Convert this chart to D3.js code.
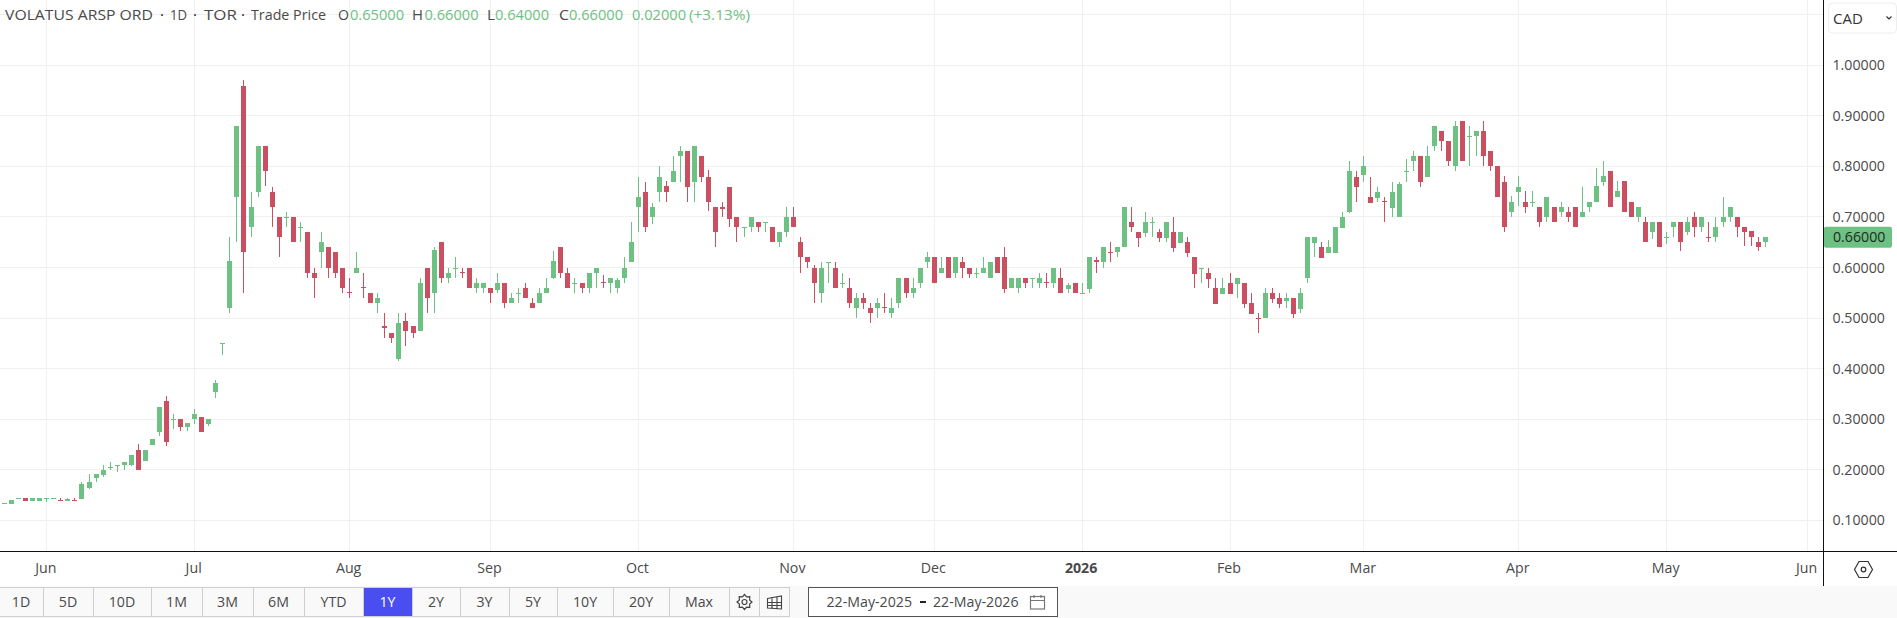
<!DOCTYPE html>
<html>
<head>
<meta charset="utf-8">
<script src="https://cdn.jsdelivr.net/npm/d3@7"></script>
<style>
  html, body { margin: 0; padding: 0; background: #fff; overflow: hidden; }
  svg { display: block; font-family: "Open Sans", sans-serif; }
  text { fill: #4a4a4a; }
</style>
</head>
<body>
<svg id="chart" width="1897" height="618"></svg>
<script>
const opens = [
  .135,.133,.144,.145,.139,.139,.144,.144,.141,.139,
  .141,.143,.163,.183,.189,.205,.21,.209,.209,.24,
  .218,.248,.274,.335,.3,.3,.284,.3,.305,.29,
  .353,.45,.52,.74,.96,.68,.75,.84,.75,.7,
  .7,.7,.68,.67,.59,.63,.64,.63,.6,.551,
  .59,.561,.55,.53,.485,.47,.42,.495,.485,.475,
  .6,.55,.65,.58,.6,.591,.6,.56,.56,.56,
  .555,.57,.53,.55,.56,.53,.53,.55,.58,.64,
  .59,.57,.57,.56,.59,.571,.57,.56,.58,.61,
  .72,.75,.7,.75,.762,.77,.82,.83,.77,.82,
  .78,.72,.72,.76,.7,.68,.68,.69,.69,.68,
  .65,.67,.7,.65,.62,.6,.55,.61,.6,.57,
  .56,.52,.54,.52,.52,.521,.51,.53,.58,.55,
  .57,.61,.62,.59,.62,.59,.61,.6,.59,.59,
  .58,.62,.62,.56,.56,.58,.58,.57,.571,.57,
  .58,.557,.57,.55,.557,.615,.61,.631,.63,.64,
  .69,.67,.668,.69,.67,.658,.67,.648,.65,.62,
  .6,.59,.56,.547,.57,.567,.57,.53,.501,.5,
  .55,.54,.533,.54,.517,.58,.648,.64,.628,.628,
  .678,.71,.78,.783,.74,.737,.731,.717,.7,.79,
  .81,.82,.78,.84,.87,.85,.8,.89,.86,.86,
  .87,.83,.8,.77,.71,.75,.73,.73,.72,.7,
  .72,.71,.71,.72,.7,.72,.73,.77,.79,.74,
  .772,.73,.7,.69,.67,.69,.66,.68,.69,.67,
  .7,.68,.661,.66,.69,.7,.7,.68,.672,.65,.65
];
const highs = [
  .135,.141,.145,.145,.145,.145,.145,.145,.145,.145,
  .145,.175,.191,.191,.21,.216,.21,.216,.23,.25,
  .24,.26,.325,.345,.31,.3,.292,.32,.305,.3,
  .377,.451,.66,.88,.97,.75,.84,.84,.76,.7,
  .71,.7,.69,.67,.6,.67,.64,.63,.6,.58,
  .63,.59,.55,.55,.51,.47,.51,.51,.485,.58,
  .6,.64,.65,.6,.62,.6,.6,.58,.57,.56,
  .59,.57,.55,.56,.57,.54,.56,.58,.632,.64,
  .6,.58,.57,.59,.6,.585,.58,.58,.62,.69,
  .78,.77,.727,.8,.772,.82,.84,.83,.84,.82,
  .792,.72,.73,.76,.7,.68,.7,.69,.69,.68,
  .67,.72,.72,.66,.62,.605,.61,.61,.61,.59,
  .58,.55,.55,.53,.54,.55,.54,.58,.58,.58,
  .6,.63,.62,.62,.62,.62,.62,.6,.6,.62,
  .61,.62,.64,.58,.58,.58,.58,.59,.59,.6,
  .6,.57,.57,.57,.62,.62,.64,.65,.64,.72,
  .72,.67,.71,.7,.676,.69,.7,.67,.66,.62,
  .6,.6,.58,.58,.59,.58,.57,.55,.51,.56,
  .56,.55,.55,.54,.56,.66,.66,.65,.654,.68,
  .71,.81,.79,.82,.78,.76,.74,.77,.77,.815,
  .83,.82,.84,.88,.87,.85,.89,.89,.88,.87,
  .89,.83,.8,.782,.741,.782,.752,.752,.72,.74,
  .72,.73,.72,.72,.76,.73,.796,.81,.79,.772,
  .772,.73,.72,.7,.69,.69,.671,.69,.69,.7,
  .71,.7,.69,.7,.74,.72,.7,.68,.672,.66,.66
];
const lows = [
  .133,.133,.144,.139,.139,.139,.136,.142,.14,.139,
  .14,.143,.162,.175,.186,.2,.195,.2,.207,.2,
  .218,.248,.266,.246,.28,.276,.276,.29,.274,.286,
  .341,.426,.51,.65,.55,.66,.74,.762,.68,.62,
  .68,.65,.65,.58,.54,.6,.58,.58,.55,.54,
  .59,.54,.53,.51,.46,.45,.415,.445,.46,.475,
  .51,.51,.57,.57,.58,.58,.56,.55,.55,.53,
  .55,.52,.53,.53,.54,.52,.53,.55,.578,.58,
  .56,.55,.55,.55,.56,.56,.55,.55,.57,.61,
  .67,.67,.687,.73,.73,.77,.77,.73,.73,.77,
  .711,.64,.7,.68,.65,.66,.67,.67,.67,.65,
  .64,.66,.68,.59,.6,.53,.53,.57,.56,.56,
  .52,.5,.517,.49,.5,.51,.5,.52,.54,.54,
  .56,.6,.57,.59,.58,.58,.58,.58,.58,.59,
  .58,.59,.55,.56,.55,.56,.56,.56,.56,.56,
  .55,.55,.55,.55,.55,.59,.6,.61,.62,.64,
  .67,.64,.66,.66,.65,.65,.63,.648,.62,.56,
  .57,.56,.527,.547,.547,.54,.52,.508,.47,.5,
  .53,.52,.52,.5,.51,.57,.62,.618,.628,.628,
  .678,.708,.73,.77,.727,.73,.69,.7,.7,.77,
  .79,.76,.78,.83,.83,.8,.79,.81,.8,.82,
  .8,.79,.739,.671,.7,.721,.707,.72,.68,.69,
  .69,.7,.69,.68,.7,.71,.73,.762,.72,.74,
  .709,.7,.69,.65,.656,.64,.646,.66,.632,.665,
  .66,.67,.65,.65,.68,.69,.66,.642,.642,.632,.64
];
const closes = [
  .135,.141,.145,.139,.145,.145,.145,.145,.14,.143,
  .14,.171,.175,.191,.2,.205,.21,.216,.23,.2,
  .24,.26,.325,.254,.3,.284,.292,.31,.274,.3,
  .371,.45,.612,.88,.63,.72,.84,.79,.72,.66,
  .7,.65,.68,.59,.58,.65,.6,.59,.56,.55,
  .6,.56,.53,.54,.48,.46,.49,.475,.47,.57,
  .54,.635,.58,.59,.6,.59,.56,.57,.57,.55,
  .57,.53,.54,.55,.54,.52,.55,.56,.612,.59,
  .56,.57,.56,.59,.6,.57,.58,.575,.6,.65,
  .74,.68,.72,.78,.75,.79,.83,.76,.84,.78,
  .73,.67,.715,.695,.68,.68,.7,.68,.69,.65,
  .67,.7,.68,.62,.61,.57,.6,.61,.56,.57,
  .53,.54,.53,.51,.53,.52,.52,.58,.55,.56,
  .6,.62,.57,.6,.58,.62,.6,.587,.59,.6,
  .61,.59,.557,.58,.58,.57,.58,.58,.57,.6,
  .55,.565,.55,.55,.62,.61,.64,.63,.64,.72,
  .68,.658,.69,.69,.658,.69,.638,.67,.628,.587,
  .6,.577,.527,.56,.547,.58,.527,.508,.5,.55,
  .537,.527,.54,.508,.55,.66,.66,.618,.64,.68,
  .7,.79,.76,.8,.727,.75,.73,.75,.765,.79,
  .82,.77,.82,.88,.85,.81,.88,.81,.86,.87,
  .82,.8,.739,.68,.73,.76,.72,.73,.69,.74,
  .69,.72,.7,.68,.71,.73,.762,.782,.72,.752,
  .709,.7,.72,.65,.69,.64,.66,.69,.65,.69,
  .68,.7,.66,.68,.7,.72,.68,.67,.66,.64,.66
];

const monthLabels = ['Jun', 'Jul', 'Aug', 'Sep', 'Oct', 'Nov', 'Dec', '2026', 'Feb', 'Mar', 'Apr', 'May', 'Jun'];
const monthBars = [6, 27, 49, 69, 90, 112, 132, 153, 174, 193, 215, 236, 256];
const priceTicks = [0.1, 0.2, 0.3, 0.4, 0.5, 0.6, 0.7, 0.8, 0.9, 1.0];
const gridPrices = [0.1, 0.2, 0.3, 0.4, 0.5, 0.6, 0.7, 0.8, 0.9, 1.0, 1.1];
const lastPrice = 0.66;
const rangeLabels = ['1D', '5D', '10D', '1M', '3M', '6M', 'YTD', '1Y', '2Y', '3Y', '5Y', '10Y', '20Y', 'Max'];
const rangeEdges = [-1, 43, 93, 151, 202, 253, 304, 363, 412, 460, 509, 557, 613, 669, 729];

const green = '#6cc183', red = '#c94f61', gridColor = '#f0f0f0';
const axisX = 1823.5, axisY = 551.5, footerY = 586;
const labelSize = 14.2;

const svg = d3.select('#chart');
const x = d3.scaleLinear().domain([0, 250]).range([4.5, 1765.3]);
const y = d3.scaleLinear().domain([0.1, 1.0]).range([520.3, 65.3]);
const snap = v => Math.floor(v) + 0.5;

// grid
svg.append('g').selectAll('line').data(gridPrices).join('line')
  .attr('x1', 0).attr('x2', axisX)
  .attr('y1', d => snap(y(d))).attr('y2', d => snap(y(d)))
  .attr('stroke', gridColor);
svg.append('g').selectAll('line').data(monthBars).join('line')
  .attr('x1', d => snap(x(d))).attr('x2', d => snap(x(d)))
  .attr('y1', 0).attr('y2', axisY)
  .attr('stroke', gridColor);

// candles
const candles = svg.append('g').attr('shape-rendering', 'crispEdges')
  .selectAll('g').data(closes).join('g')
  .attr('fill', (d, i) => d >= opens[i] ? green : red);
candles.append('rect')
  .attr('x', (d, i) => snap(x(i)) - 0.5).attr('width', 1)
  .attr('y', (d, i) => Math.round(y(highs[i])))
  .attr('height', (d, i) => Math.max(1, Math.round(y(lows[i])) - Math.round(y(highs[i]))));
candles.append('rect')
  .attr('x', (d, i) => snap(x(i)) - 2.5).attr('width', 5)
  .attr('y', (d, i) => Math.round(y(Math.max(d, opens[i]))))
  .attr('height', (d, i) => Math.max(1, Math.round(y(Math.min(d, opens[i]))) - Math.round(y(Math.max(d, opens[i])))));

// footer band, goes under the range buttons
svg.append('rect').attr('x', 0).attr('y', footerY).attr('width', 1897).attr('height', 618 - footerY).attr('fill', '#f9f9f9');

// axes
const priceAxis = svg.append('g').attr('transform', `translate(${axisX},0)`)
  .call(d3.axisRight(y).tickValues(priceTicks).tickFormat(d => d.toFixed(5)).tickSize(0).tickPadding(9));
priceAxis.select('.domain').remove();
priceAxis.selectAll('text').attr('font-size', labelSize).attr('font-family', '"Open Sans"').attr('fill', '#4a4a4a');

const timeAxis = svg.append('g').attr('transform', `translate(0,${axisY})`)
  .call(d3.axisBottom(x).tickValues(monthBars).tickFormat((d, i) => monthLabels[i]).tickSize(0).tickPadding(11));
timeAxis.select('.domain').remove();
timeAxis.selectAll('text').attr('font-size', labelSize).attr('font-family', '"Open Sans"').attr('fill', '#4a4a4a')
  .attr('dx', -1.5)
  .attr('font-weight', (d, i) => monthLabels[i] === '2026' ? 700 : 400);

svg.append('line').attr('x1', 0).attr('x2', 1897).attr('y1', axisY).attr('y2', axisY).attr('stroke', '#111');
svg.append('line').attr('x1', axisX).attr('x2', axisX).attr('y1', 0).attr('y2', footerY).attr('stroke', '#111');

// last price flag
svg.append('rect').attr('x', axisX + 0.5).attr('y', y(lastPrice) - 10.5).attr('width', 68).attr('height', 21)
  .attr('rx', 2).attr('fill', green);
svg.append('text').attr('x', axisX + 9.5).attr('y', y(lastPrice) + 5).attr('font-size', labelSize).style('fill', '#1d2b20')
  .text(lastPrice.toFixed(5));

// currency box
svg.append('rect').attr('x', 1828.5).attr('y', 3).attr('width', 68).attr('height', 30).attr('rx', 4)
  .attr('fill', '#fff').attr('stroke', '#eeeeee');
svg.append('text').attr('x', 1833).attr('y', 23.5).attr('font-size', 15).style('fill', '#333').text('CAD');
svg.append('path').attr('d', 'M1886.5 16.5l2.5 2.5l2.5-2.5').attr('fill', 'none').attr('stroke', '#333').attr('stroke-width', 1.2);

// header, each piece has text, left edge, width and colour
const headerPieces = [
  ['VOLATUS ARSP ORD', 5, 148, '#4a4a4a'], ['·', 160, 4, '#222'], ['1D', 170, 17, '#4a4a4a'], ['·', 193, 4, '#222'], ['TOR', 204, 33, '#4a4a4a'],
  ['·', 241, 4, '#222'], ['Trade Price', 251, 75, '#4a4a4a'],
  ['O', 338, 11, '#4a4a4a'], ['0.65000', 350, 54, green], ['H', 412, 11, '#4a4a4a'], ['0.66000', 424.5, 54, green],
  ['L', 487, 8, '#4a4a4a'], ['0.64000', 495, 54, green], ['C', 559, 10, '#4a4a4a'], ['0.66000', 569, 54, green],
  ['0.02000', 632, 54, green], ['(+3.13%)', 689, 61, green]
];
svg.append('g').selectAll('text').data(headerPieces).join('text')
  .attr('x', d => d[1]).attr('y', 20).attr('font-size', 14.4)
  .attr('textLength', d => d[2]).attr('lengthAdjust', 'spacingAndGlyphs')
  .style('fill', d => d[3]).text(d => d[0]);

// axis corner icon
svg.append('path').attr('d', 'M1854.5 569.5l4.5-8h9l4.5 8l-4.5 8h-9z').attr('fill', 'none').attr('stroke', '#333').attr('stroke-width', 1.2);
svg.append('circle').attr('cx', 1863.5).attr('cy', 569.5).attr('r', 2.3).attr('fill', 'none').attr('stroke', '#333').attr('stroke-width', 1.2);

// range buttons
const buttons = svg.append('g').selectAll('g').data(rangeLabels).join('g');
buttons.append('rect')
  .attr('x', (d, i) => rangeEdges[i] + 0.5).attr('y', 587.5)
  .attr('width', (d, i) => rangeEdges[i + 1] - rangeEdges[i]).attr('height', 29)
  .attr('fill', d => d === '1Y' ? '#4a4ef0' : '#f9f9f9').attr('stroke', '#cfcfcf');
buttons.append('text')
  .attr('x', (d, i) => (rangeEdges[i] + rangeEdges[i + 1]) / 2).attr('y', 607)
  .attr('text-anchor', 'middle').attr('font-size', labelSize).style('fill', d => d === '1Y' ? '#fff' : '#4a4a4a')
  .text(d => d);

const iconBoxes = [[729, 30], [759, 30]];
svg.append('g').selectAll('rect').data(iconBoxes).join('rect')
  .attr('x', d => d[0] + 0.5).attr('y', 587.5).attr('width', d => d[1]).attr('height', 29)
  .attr('fill', '#f9f9f9').attr('stroke', '#cfcfcf');

// gear icon
const gear = svg.append('g').attr('transform', 'translate(744.5,602)').attr('fill', 'none').attr('stroke', '#444').attr('stroke-width', 1.2);
gear.append('circle').attr('r', 2.5);
gear.append('path').attr('d', d3.range(16).map(i => {
  const r = i % 2 === 0 ? 7.5 : 5.5;
  const a = i * Math.PI / 8;
  return (i ? 'L' : 'M') + (r * Math.cos(a)).toFixed(1) + ' ' + (r * Math.sin(a)).toFixed(1);
}).join('') + 'Z');

// table icon
const table = svg.append('g').attr('transform', 'translate(767,595)').attr('fill', 'none').attr('stroke', '#444').attr('stroke-width', 1.1);
table.append('path').attr('d', 'M0.5 3.5l14-2.5v13l-14-1zM0.5 7.5h14M0.5 10.5h14M5 2v12M10 1.5v12.5');

// date range box
svg.append('rect').attr('x', 808.5).attr('y', 587.5).attr('width', 249).attr('height', 29)
  .attr('fill', '#fff').attr('stroke', '#555');
svg.append('text').attr('x', 826.5).attr('y', 607).attr('font-size', labelSize).style('fill', '#4a4a4a').text('22-May-2025');
svg.append('rect').attr('x', 920).attr('y', 601).attr('width', 6).attr('height', 2).attr('fill', '#222');
svg.append('text').attr('x', 933).attr('y', 607).attr('font-size', labelSize).style('fill', '#4a4a4a').text('22-May-2026');
const cal = svg.append('g').attr('transform', 'translate(1030,595)').attr('fill', 'none').attr('stroke', '#777').attr('stroke-width', 1.2);
cal.append('rect').attr('x', 0.5).attr('y', 1.5).attr('width', 14).attr('height', 12.5);
cal.append('path').attr('d', 'M0.5 5.5h14M4 0v3M11 0v3');
</script>
</body>
</html>
